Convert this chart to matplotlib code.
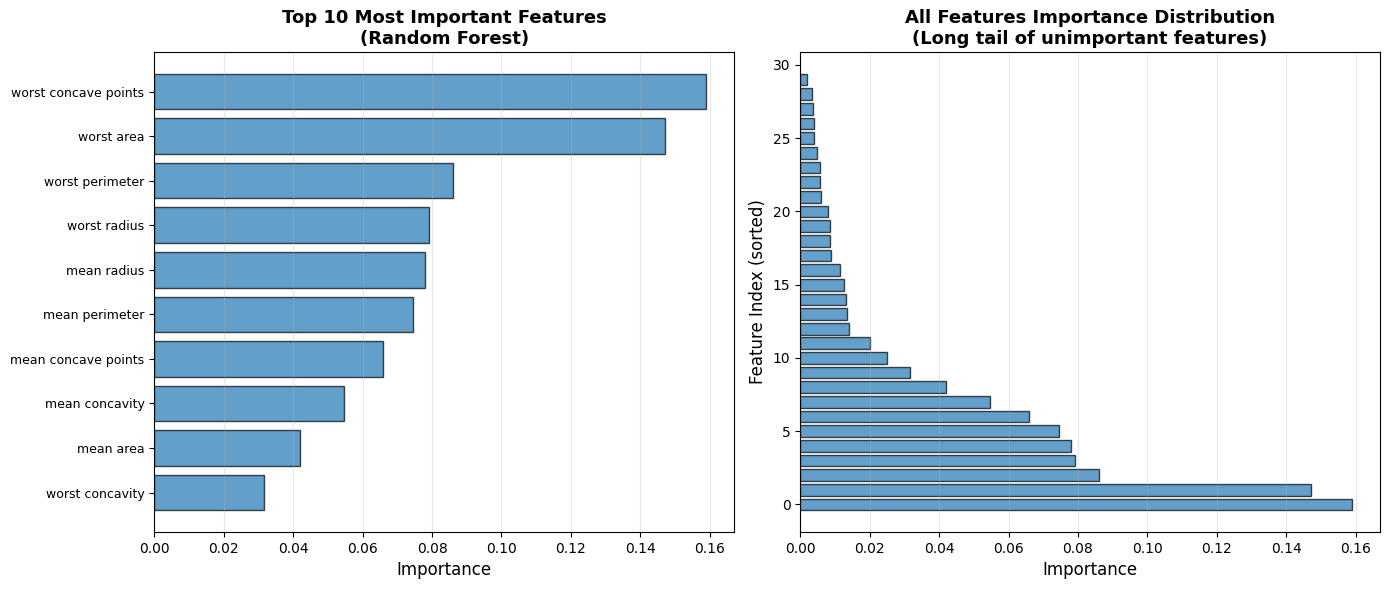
import numpy as np
import matplotlib
matplotlib.use("Agg")
import matplotlib.pyplot as plt

# top 10 features (most important first)
top_names = ["worst concave points", "worst area", "worst perimeter", "worst radius",
             "mean radius", "mean perimeter", "mean concave points", "mean concavity",
             "mean area", "worst concavity"]
top_importance = [0.159, 0.147, 0.086, 0.079, 0.078, 0.0745, 0.066, 0.0546, 0.0419, 0.0315]

# all 30 importances, sorted descending
all_importance = [0.159, 0.147, 0.086, 0.079, 0.078, 0.0745, 0.066, 0.0546, 0.0419, 0.0315,
                  0.0251, 0.0200, 0.0141, 0.0135, 0.0132, 0.0126, 0.0115, 0.0089, 0.0086, 0.0086,
                  0.0080, 0.0060, 0.0057, 0.0057, 0.0048, 0.0040, 0.0040, 0.0037, 0.0034, 0.0019]

fig, (ax1, ax2) = plt.subplots(1, 2, figsize=(13.89, 5.9), dpi=100)

pos = np.arange(len(top_names))
ax1.barh(pos, top_importance, color="#1f77b4", alpha=0.7, edgecolor="black")
ax1.set_yticks(pos)
ax1.set_yticklabels(top_names, fontsize=9)
ax1.invert_yaxis()
ax1.set_xlabel("Importance", fontsize=12)
ax1.set_title("Top 10 Most Important Features\n(Random Forest)", fontsize=13, fontweight="bold")
ax1.grid(axis="x", alpha=0.3)

idx = np.arange(len(all_importance))
ax2.barh(idx, all_importance, color="#1f77b4", alpha=0.7, edgecolor="black")
ax2.set_xlabel("Importance", fontsize=12)
ax2.set_ylabel("Feature Index (sorted)", fontsize=12)
ax2.set_title("All Features Importance Distribution\n(Long tail of unimportant features)",
              fontsize=13, fontweight="bold")
ax2.grid(axis="x", alpha=0.3)

fig.subplots_adjust(left=0.111, right=0.9935, top=0.912, bottom=0.098, wspace=0.114)
fig.savefig("out.png")
